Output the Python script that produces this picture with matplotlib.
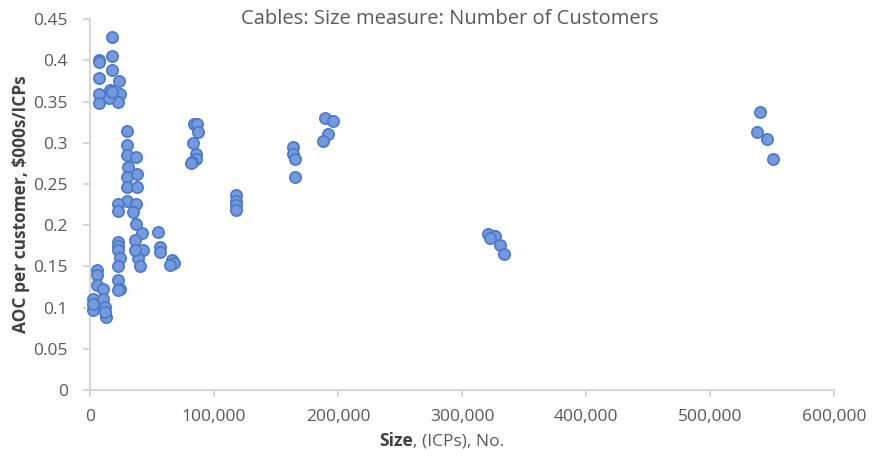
import matplotlib
matplotlib.use("Agg")
import matplotlib.pyplot as plt
from matplotlib.ticker import FuncFormatter, MultipleLocator

plt.rcParams['font.family'] = ['Open Sans', 'DejaVu Sans']

# number of customers (ICPs) per network
size_icps = [
    7300, 7300, 7300, 7300, 7300, 18000, 18000, 18000, 23400, 16100,
    24200, 22800, 15600, 18000,
    30100, 30100, 30100, 36900, 30900, 30100, 37700, 30100, 38100, 30100,
    37100, 34900, 22800, 22800, 37100, 41700, 43000, 39000, 40300, 36300,
    36300, 22800, 22800, 22800, 24200, 22800, 22800, 24200, 22800,
    5400, 5400, 5400, 10700, 2700, 2700, 10700, 12100, 12900, 12100, 2700,
    55100, 56500, 56500, 65900, 67700, 64500,
    84000, 86000, 87300, 83300, 85500, 85500, 82000, 81200,
    118100, 118100, 118100, 118100,
    163500, 163800, 165300, 165300,
    189500, 195700, 192200, 188100,
    321200, 326600, 322600, 330600, 333900,
    540300, 538100, 545700, 551000,
]

# annual operating cost per customer, $000s/ICP
aoc_per_icp = [
    0.400, 0.398, 0.379, 0.359, 0.348, 0.429, 0.406, 0.389, 0.375, 0.364,
    0.359, 0.350, 0.355, 0.362,
    0.315, 0.298, 0.285, 0.283, 0.271, 0.259, 0.262, 0.247, 0.247, 0.230,
    0.226, 0.216, 0.226, 0.217, 0.202, 0.190, 0.170, 0.160, 0.150, 0.182,
    0.170, 0.180, 0.175, 0.170, 0.160, 0.150, 0.133, 0.123, 0.121,
    0.146, 0.140, 0.127, 0.123, 0.111, 0.097, 0.111, 0.101, 0.089, 0.095, 0.104,
    0.192, 0.174, 0.168, 0.158, 0.154, 0.152,
    0.323, 0.323, 0.313, 0.300, 0.286, 0.281, 0.277, 0.275,
    0.237, 0.230, 0.224, 0.218,
    0.295, 0.287, 0.280, 0.258,
    0.330, 0.327, 0.311, 0.302,
    0.189, 0.187, 0.184, 0.176, 0.165,
    0.337, 0.313, 0.305, 0.280,
]

grey = '#595959'
axis_col = '#d0d0d0'

fig = plt.figure(figsize=(8.76, 4.59), dpi=100)
ax = fig.add_axes([90 / 876, 1 - 390 / 459, (834 - 90) / 876, (390 - 19.3) / 459])

ax.scatter(size_icps, aoc_per_icp, s=66, facecolor='#7499dc',
           edgecolor='#4a78c8', linewidth=1.2, zorder=3, clip_on=False)

ax.set_xlim(0, 600000)
ax.set_ylim(0, 0.45)
ax.xaxis.set_major_locator(MultipleLocator(100000))
ax.yaxis.set_major_locator(MultipleLocator(0.05))
ax.xaxis.set_major_formatter(FuncFormatter(lambda v, p: f"{int(v):,}"))
ax.yaxis.set_major_formatter(FuncFormatter(lambda v, p: f"{v:.2f}".rstrip('0').rstrip('.') if v else "0"))

for s in ['top', 'right']:
    ax.spines[s].set_visible(False)
for s in ['left', 'bottom']:
    ax.spines[s].set_color(axis_col)
    ax.spines[s].set_linewidth(1.2)

ax.tick_params(axis='both', colors=axis_col, labelcolor=grey, labelsize=12.5,
               length=5, width=1.2, direction='out')
ax.tick_params(axis='y', pad=11)
ax.tick_params(axis='x', pad=9)

ax.set_ylabel("AOC per customer, $000s/ICPs", fontsize=12.5, fontweight='bold',
              color='#404040', labelpad=2)

# x label: bold "Size" followed by the plain remainder
fig.text(413 / 876, 1 - 441 / 459, "Size", ha='right', va='center',
         fontsize=12.5, fontweight='bold', color='#404040')
fig.text(413 / 876, 1 - 441 / 459, ", (ICPs), No.", ha='left', va='center',
         fontsize=12.5, color=grey)

fig.text(450 / 876, 1 - 19 / 459, "Cables: Size measure: Number of Customers",
         ha='center', va='center', fontsize=14.5, color=grey)

fig.savefig("out.png", dpi=100)
